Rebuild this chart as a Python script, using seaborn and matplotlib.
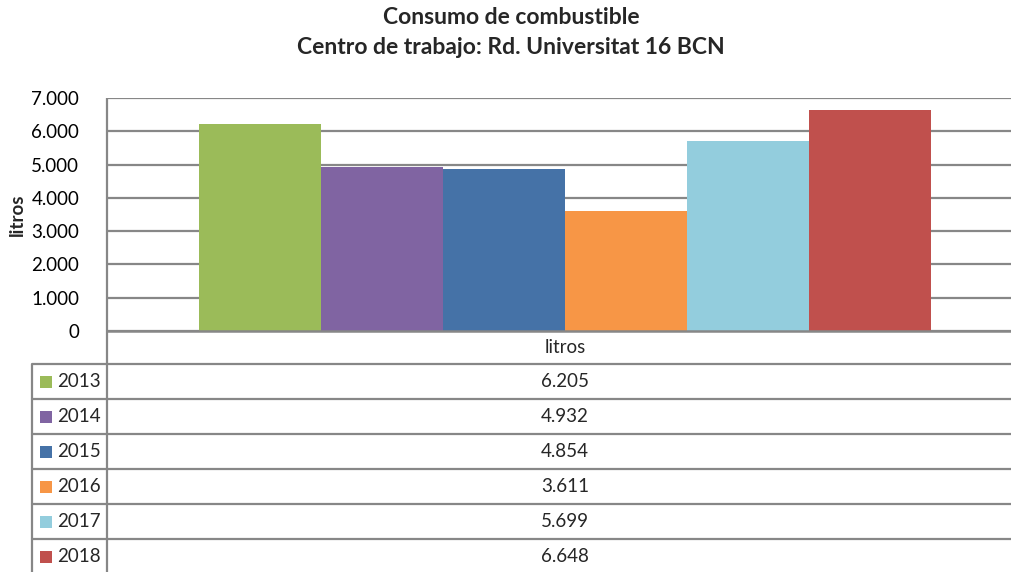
import matplotlib
matplotlib.use("Agg")
import matplotlib.pyplot as plt
from matplotlib.ticker import FuncFormatter
import seaborn as sns
import pandas as pd

# ---- data ----
years = ["2013", "2014", "2015", "2016", "2017", "2018"]
values = [6205, 4932, 4854, 3611, 5699, 6648]
category = "litros"
colors = ["#9BBB59", "#8064A2", "#4572A7", "#F79646", "#93CDDD", "#C0504D"]
title_lines = ["Consumo de combustible", "Centro de trabajo: Rd. Universitat 16 BCN"]
y_label = "litros"
y_ticks = [0, 1000, 2000, 3000, 4000, 5000, 6000, 7000]

sns.set_theme(style="white")
FONT = ["Lato", "DejaVu Sans"]
plt.rcParams["font.family"] = FONT

W, H = 1012, 572
fig = plt.figure(figsize=(W / 100, H / 100), dpi=100)
GRID = "#878787"
FS = 13.5

def fx(px):
    return px / W

def fy(py):
    return 1 - py / H

# main axes: left 107px, top 98px, bottom 331px, right extends past edge
ax_l, ax_r, ax_t, ax_b = 107, 1023, 98, 331
ax = fig.add_axes([fx(ax_l), fy(ax_b), fx(ax_r - ax_l), (ax_b - ax_t) / H])

df = pd.DataFrame({"cat": [category] * len(years), "year": years, "value": values})
sns.barplot(data=df, x="cat", y="value", hue="year", palette=colors,
            hue_order=years, width=0.8, gap=0, linewidth=0, saturation=1,
            legend=False, ax=ax, zorder=3)
ax.set_xlim(-0.5, 0.5)
ax.set_ylim(0, 7000)
ax.set_yticks(y_ticks)
ax.yaxis.set_major_formatter(FuncFormatter(lambda v, p: f"{int(v):,}".replace(",", ".")))
ax.tick_params(axis="y", length=0, pad=20, labelsize=FS, colors="black")
ax.tick_params(axis="x", length=0, labelbottom=False)
ax.set_xlabel("")
ax.set_ylabel("")
ax.yaxis.grid(True, color=GRID, linewidth=1.6, zorder=0)
ax.set_axisbelow(True)
for s in ["top", "right"]:
    ax.spines[s].set_visible(False)
ax.spines["left"].set_visible(False)
ax.spines["bottom"].set_color(GRID)
ax.spines["bottom"].set_linewidth(1.8)
ax.spines["bottom"].set_zorder(5)

# y label
fig.text(fx(17), fy((ax_t + ax_b) / 2), y_label, rotation=90, ha="center",
         va="center", fontsize=FS, fontweight="bold")

# title
fig.text(fx(511), fy(18), title_lines[0], ha="center", va="center",
         fontsize=16.5, fontweight="bold")
fig.text(fx(511), fy(47), title_lines[1], ha="center", va="center",
         fontsize=16.5, fontweight="bold")

# ---- data table overlay ----
tab = fig.add_axes([0, 0, 1, 1], facecolor="none")
tab.set_xlim(0, W)
tab.set_ylim(H, 0)
tab.axis("off")

header_top, header_bot = 331, 364
row_h = 35
lw = 1.6
# left spine of the plot extended through table
tab.plot([ax_l, ax_l], [ax_t, H], color=GRID, lw=lw, solid_capstyle="butt")
# header text
tab.text((ax_l + ax_r) / 2, (header_top + header_bot) / 2, category,
         ha="center", va="center", fontsize=FS)
tab.plot([32, W], [header_bot, header_bot], color=GRID, lw=lw)
tab.plot([32, 32], [header_bot, H], color=GRID, lw=lw, solid_capstyle="butt")
for i, (yr, v, c) in enumerate(zip(years, values, colors)):
    top = header_bot + i * row_h
    bot = top + row_h
    mid = (top + bot) / 2
    tab.plot([32, W], [bot, bot], color=GRID, lw=lw)
    tab.add_patch(plt.Rectangle((40, mid - 6), 12, 12, color=c, lw=0))
    tab.text(57, mid, yr, ha="left", va="center", fontsize=FS)
    tab.text((ax_l + ax_r) / 2, mid, f"{v:,}".replace(",", "."),
             ha="center", va="center", fontsize=FS)

fig.savefig("out.png", dpi=100)
